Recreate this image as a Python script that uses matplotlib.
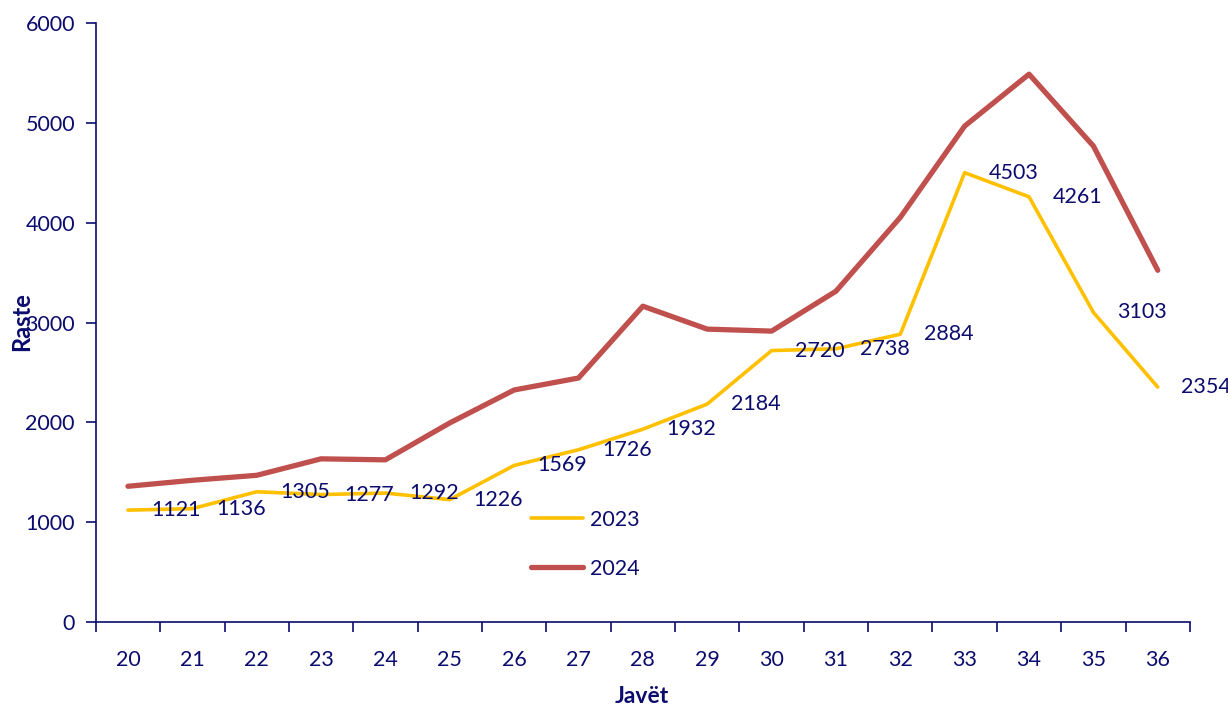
import matplotlib
matplotlib.use("Agg")
import matplotlib.pyplot as plt

weeks = [20, 21, 22, 23, 24, 25, 26, 27, 28, 29, 30, 31, 32, 33, 34, 35, 36]
cases_2023 = [1121, 1136, 1305, 1277, 1292, 1226, 1569, 1726, 1932, 2184,
              2720, 2738, 2884, 4503, 4261, 3103, 2354]
cases_2024 = [1360, 1420, 1470, 1635, 1625, 1995, 2325, 2445, 3165, 2935,
              2915, 3315, 4055, 4970, 5490, 4770, 3525]

NAVY = "#0c0c6e"
plt.rcParams["font.family"] = ["Lato", "DejaVu Sans"]

fig = plt.figure(figsize=(12.28, 7.06), dpi=100)
ax = fig.add_axes([0.078, 0.119, 0.891, 0.848])

xs = list(range(len(weeks)))
ax.plot(xs, cases_2023, color="#ffc000", lw=2.6, label="2023",
        solid_capstyle="round", zorder=3)
ax.plot(xs, cases_2024, color="#c0504d", lw=3.8, label="2024",
        solid_capstyle="round", zorder=2)

for x, v in zip(xs, cases_2023):
    ax.annotate(str(v), (x, v), xytext=(17, 0), textcoords="offset points",
                ha="left", va="center", fontsize=15.5, color=NAVY, zorder=4)

ax.set_xlim(-0.5, len(weeks) - 0.5)
ax.set_ylim(0, 6000)
ax.set_yticks(range(0, 6001, 1000))
ax.set_xticks(xs)
ax.set_xticklabels([str(w) for w in weeks])
ax.set_xticks([x - 0.5 for x in range(len(weeks) + 1)], minor=True)
ax.tick_params(axis="x", which="major", length=0, pad=20, labelsize=15.5,
               labelcolor=NAVY)
ax.tick_params(axis="x", which="minor", length=7, width=1.2, color=NAVY)
ax.tick_params(axis="y", length=7, width=1.2, color=NAVY, labelsize=15.5,
               labelcolor=NAVY, pad=8)

for s in ("top", "right"):
    ax.spines[s].set_visible(False)
for s in ("left", "bottom"):
    ax.spines[s].set_color(NAVY)
    ax.spines[s].set_linewidth(1.2)

fig.text(0.523, 0.013, "Javët", ha="center", va="center", fontsize=16.5,
         fontweight="bold", color=NAVY)
fig.text(0.018, 0.544, "Raste", ha="center", va="center", rotation=90,
         fontsize=17, fontweight="bold", color=NAVY)

leg = ax.legend(loc="upper left", bbox_to_anchor=(0.38, 0.22),
                frameon=False, fontsize=15.5, handlelength=2.4,
                handletextpad=0.35, labelspacing=1.35)
for t in leg.get_texts():
    t.set_color(NAVY)

fig.savefig("out.png", dpi=100)
